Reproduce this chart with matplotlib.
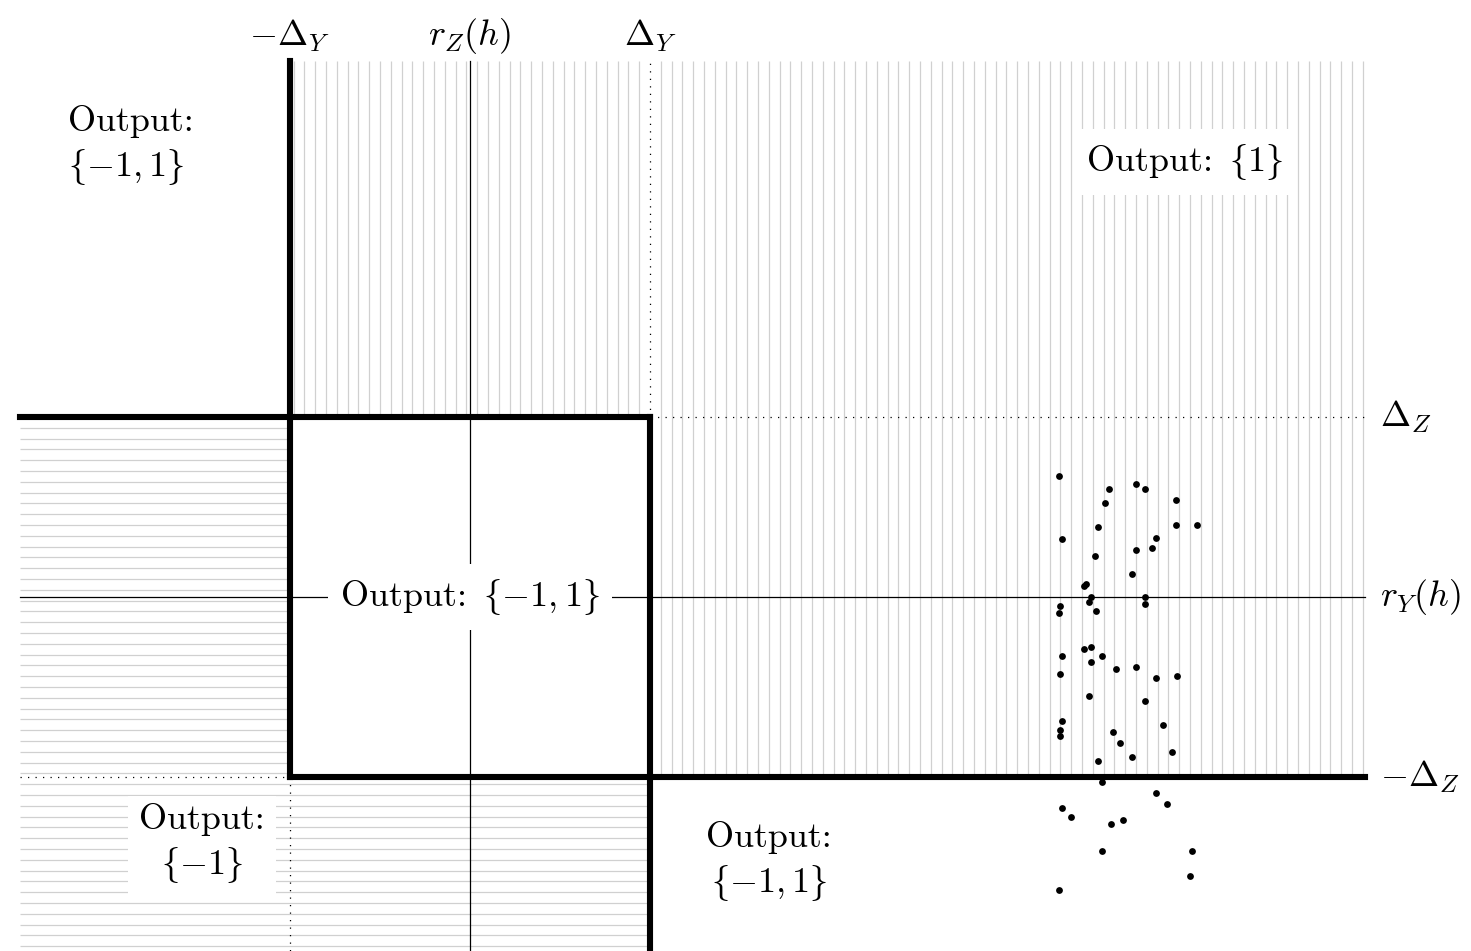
import numpy as np
import matplotlib

matplotlib.use("Agg")
import matplotlib.pyplot as plt

plt.rcParams["font.family"] = "serif"
plt.rcParams["font.serif"] = ["cmr10"]
plt.rcParams["mathtext.fontset"] = "cm"
plt.rcParams["axes.unicode_minus"] = True

# thresholds (centre r_Z(h), r_Y(h) at the origin)
R_Z = 0.0
R_Y = 0.0
DELTA_Y = 1.0
DELTA_Z = 1.0

# drawn region
X_MIN, X_MAX = -2.5, 4.97
Y_MIN, Y_MAX = -2.0, 2.98

# sample points
pts_x = [3.27, 3.55, 3.70, 3.75, 3.92, 3.53, 3.92, 4.04, 3.49, 3.29,
         3.81, 3.79, 3.70, 3.47, 3.68, 3.41, 3.42, 3.45, 3.75, 3.28,
         3.44, 3.75, 3.27, 3.48, 3.29, 3.41, 3.45, 3.51, 3.45, 3.28,
         3.59, 3.70, 3.81, 3.93, 3.44, 3.75, 3.29, 3.28, 3.28, 3.57,
         3.61, 3.85, 3.68, 3.90, 3.49, 3.51, 3.81, 3.87, 3.29, 3.34,
         3.56, 3.63, 3.51, 4.01, 4.00, 3.27]
pts_y = [0.67, 0.60, 0.63, 0.60, 0.54, 0.52, 0.40, 0.40, 0.39, 0.32,
         0.33, 0.27, 0.26, 0.23, 0.13, 0.06, 0.07, 0.00, 0.00, -0.05,
         -0.03, -0.04, -0.09, -0.08, -0.33, -0.29, -0.28, -0.33, -0.36, -0.43,
         -0.40, -0.39, -0.45, -0.44, -0.55, -0.58, -0.69, -0.74, -0.77, -0.75,
         -0.81, -0.71, -0.89, -0.86, -0.91, -1.03, -1.09, -1.15, -1.17, -1.22,
         -1.26, -1.24, -1.41, -1.41, -1.55, -1.63]

top_labels = [r"$-\Delta_Y$", r"$r_Z(h)$", r"$\Delta_Y$"]
right_labels = [r"$\Delta_Z$", r"$r_Y(h)$", r"$-\Delta_Z$"]

SET_BOTH = r"$\lbrace{-1},1\rbrace$"
SET_ONE = r"$\lbrace 1\rbrace$"
SET_NEG = r"$\lbrace{-1}\rbrace$"

HATCH = 0.06
GREY = "#d0d0d0"
THICK = 4.4
FS = 26

fig = plt.figure(figsize=(14.71, 9.51), dpi=100)
ax = fig.add_axes([0, 0, 1, 1])
ax.set_xlim(-2.611, 5.561)
ax.set_ylim(-1.967, 3.317)
ax.axis("off")

# vertical hatching: region where the Y-output is 1
k = np.concatenate([np.arange(-33, 0), np.arange(1, 67)])
hx = DELTA_Y + HATCH * k
hx = hx[(hx > -DELTA_Y) & (hx < X_MAX)]
y_lo = np.where(hx > DELTA_Y, -DELTA_Z, DELTA_Z)
ax.vlines(hx, y_lo, Y_MAX, color=GREY, lw=0.9, zorder=1, snap=True)

# horizontal hatching: region where the output is -1
hy = DELTA_Z - HATCH * np.arange(1, 51)
hy = hy[hy > Y_MIN - 0.05]
x_hi = np.where(hy < -DELTA_Z, DELTA_Y, -DELTA_Y)
ax.hlines(hy, X_MIN, x_hi, color=GREY, lw=0.9, zorder=1, snap=True)

# thin centre lines
ax.plot([R_Z, R_Z], [Y_MIN, Y_MAX], color="black", lw=0.9, zorder=2)
ax.plot([X_MIN, X_MAX], [R_Y, R_Y], color="black", lw=0.9, zorder=2)

# dotted continuations
dot = dict(color="black", lw=0.9, ls=(0, (1, 5)), zorder=2)
ax.plot([DELTA_Y, X_MAX], [DELTA_Z, DELTA_Z], **dot)
ax.plot([DELTA_Y, DELTA_Y], [DELTA_Z, Y_MAX], **dot)
ax.plot([-DELTA_Y, -DELTA_Y], [-DELTA_Z, Y_MIN], **dot)
ax.plot([X_MIN, -DELTA_Y], [-DELTA_Z, -DELTA_Z], **dot)

# thick decision boundaries
thick = dict(color="black", lw=THICK, solid_capstyle="projecting", zorder=3)
ax.plot([X_MIN, DELTA_Y], [DELTA_Z, DELTA_Z], **thick)
ax.plot([-DELTA_Y, X_MAX], [-DELTA_Z, -DELTA_Z], **thick)
ax.plot([-DELTA_Y, -DELTA_Y], [Y_MAX, -DELTA_Z], **thick)
ax.plot([DELTA_Y, DELTA_Y], [DELTA_Z, Y_MIN], **thick)

ax.scatter(pts_x, pts_y, s=24, color="black", lw=0, zorder=4)

# axis labels
for x, lab in zip([-DELTA_Y, R_Z, DELTA_Y], top_labels):
    ax.annotate(lab, xy=(x, Y_MAX), xytext=(0, 11), textcoords="offset points",
                ha="center", va="baseline", fontsize=FS)
for y, lab in zip([DELTA_Z, R_Y, -DELTA_Z], right_labels):
    ax.annotate(lab, xy=(X_MAX, y), xytext=(11, 0), textcoords="offset points",
                ha="left", va="center", fontsize=FS)

box = dict(boxstyle="square,pad=0.35", fc="white", ec="none")
ax.text(-2.233, 2.506, "Output:\n" + SET_BOTH, ha="left", va="center",
        fontsize=FS, linespacing=1.3)
ax.text(3.972, 2.417, "Output: " + SET_ONE.replace("$", "$\\,", 1), ha="center",
        va="center", fontsize=FS, bbox=box, zorder=5)
ax.text(0.0, 0.0, "Output: " + SET_BOTH.replace("$", "$\\,", 1), ha="center",
        va="center", fontsize=FS, bbox=box, zorder=5)
ax.text(-1.489, -1.372, "Output:\n" + SET_NEG, ha="center", va="center",
        fontsize=FS, linespacing=1.3,
        bbox=dict(boxstyle="square,pad=0.3", fc="white", ec="none"), zorder=5)
ax.text(1.661, -1.472, "Output:\n" + SET_BOTH, ha="center", va="center",
        fontsize=FS, linespacing=1.3)

fig.savefig("out.png", dpi=100)
plt.close(fig)
